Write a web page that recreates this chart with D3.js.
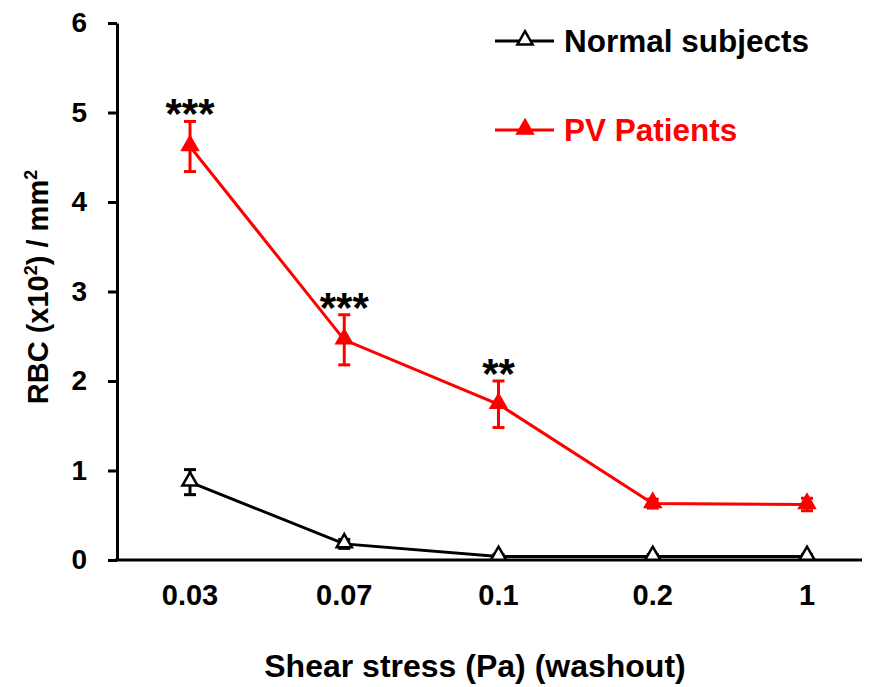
<!DOCTYPE html>
<html>
<head>
<meta charset="utf-8">
<script src="https://cdn.jsdelivr.net/npm/d3@7"></script>
<style>
  body { margin: 0; background: #fff; }
  text { font-family: "Liberation Sans", Arial, sans-serif; font-weight: bold; }
</style>
</head>
<body>
<svg id="chart"></svg>
<script>
const categories = ["0.03", "0.07", "0.1", "0.2", "1"];
const normalMean = [0.87, 0.18, 0.04, 0.04, 0.04];
const normalErr = [0.14, 0.05, 0.02, 0.02, 0.02];
const pvMean = [4.62, 2.46, 1.74, 0.63, 0.62];
const pvErr = [0.28, 0.28, 0.26, 0.05, 0.07];
const stars = ["***", "***", "**", "", ""];
const yTicks = [0, 1, 2, 3, 4, 5, 6];

const width = 874;
const height = 687;

const svg = d3.select("#chart")
    .attr("width", width)
    .attr("height", height);

const xScale = d3.scalePoint()
    .domain(categories)
    .range([190, 807]);

const yScale = d3.scaleLinear()
    .domain([0, 6])
    .range([560, 23]);

// y axis
const yAxis = svg.append("g")
    .attr("transform", "translate(117,0)")
    .call(d3.axisLeft(yScale).tickValues(yTicks).tickFormat(d3.format("d"))
      .tickSize(9).tickSizeOuter(0).tickPadding(21));
yAxis.select(".domain").attr("stroke-width", 3);
yAxis.selectAll(".tick line").attr("stroke-width", 3);
yAxis.selectAll(".tick text").style("font-size", "28px").attr("fill", "#000");

// x axis line + labels
svg.append("line")
    .attr("x1", 115).attr("x2", 862)
    .attr("y1", yScale(0)).attr("y2", yScale(0))
    .attr("stroke", "#000").attr("stroke-width", 3);

svg.append("g").selectAll("text")
    .data(categories)
    .join("text")
    .attr("x", d => xScale(d))
    .attr("y", 605)
    .attr("text-anchor", "middle")
    .style("font-size", "29px")
    .text(d => d);

svg.append("text")
    .attr("x", 475)
    .attr("y", 677)
    .attr("text-anchor", "middle")
    .style("font-size", "32px")
    .text("Shear stress (Pa) (washout)");

const ylab = svg.append("text")
    .attr("transform", "translate(48,287) rotate(-90)")
    .attr("text-anchor", "middle")
    .style("font-size", "29px");
ylab.append("tspan").text("RBC (x10");
ylab.append("tspan").text("2").attr("dy", -11).style("font-size", "18px");
ylab.append("tspan").text(") / mm").attr("dy", 11);
ylab.append("tspan").text("2").attr("dy", -11).style("font-size", "18px");

const tri = d3.symbol().type(d3.symbolTriangle).size(100);

function drawSeries(means, errs, color, fill) {
  const pts = categories.map((c, i) => ({ c: c, v: means[i], e: errs[i] }));
  const g = svg.append("g");
  g.append("path")
      .datum(pts)
      .attr("fill", "none")
      .attr("stroke", color)
      .attr("stroke-width", 3)
      .attr("d", d3.line().x(d => xScale(d.c)).y(d => yScale(d.v)));
  const eb = g.selectAll(".eb").data(pts).join("g");
  eb.append("line")
      .attr("x1", d => xScale(d.c)).attr("x2", d => xScale(d.c))
      .attr("y1", d => yScale(d.v + d.e)).attr("y2", d => yScale(d.v - d.e))
      .attr("stroke", color).attr("stroke-width", 3);
  eb.selectAll(".cap")
      .data(d => [d.v + d.e, d.v - d.e].map(y => ({ c: d.c, y: y })))
      .join("line")
      .attr("x1", d => xScale(d.c) - 6).attr("x2", d => xScale(d.c) + 6)
      .attr("y1", d => yScale(d.y)).attr("y2", d => yScale(d.y))
      .attr("stroke", color).attr("stroke-width", 3);
  g.selectAll(".mk").data(pts).join("path")
      .attr("transform", d => `translate(${xScale(d.c)},${yScale(d.v) - 1})`)
      .attr("d", tri)
      .attr("fill", fill)
      .attr("stroke", color)
      .attr("stroke-width", 2.5);
}

drawSeries(normalMean, normalErr, "#000", "#fff");
drawSeries(pvMean, pvErr, "#ff0000", "#ff0000");

// significance marks
svg.append("g").selectAll("text")
    .data(categories.map((c, i) => ({ c: c, s: stars[i], top: pvMean[i] + pvErr[i] })))
    .join("text")
    .attr("x", d => xScale(d.c))
    .attr("y", d => yScale(d.top) + 7)
    .attr("text-anchor", "middle")
    .style("font-size", "42px")
    .text(d => d.s);

// legend
const legend = [
  { name: "Normal subjects", color: "#000", fill: "#fff", y: 41 },
  { name: "PV Patients", color: "#ff0000", fill: "#ff0000", y: 130 }
];
const lg = svg.append("g").selectAll("g").data(legend).join("g")
    .attr("transform", d => `translate(0,${d.y})`);
lg.append("line")
    .attr("x1", 495).attr("x2", 554)
    .attr("stroke", d => d.color).attr("stroke-width", 3);
lg.append("path")
    .attr("transform", "translate(525,-1)")
    .attr("d", tri)
    .attr("fill", d => d.fill)
    .attr("stroke", d => d.color)
    .attr("stroke-width", 2.5);
lg.append("text")
    .attr("x", 564)
    .attr("y", 11)
    .style("font-size", "31.5px")
    .attr("fill", d => d.color)
    .text(d => d.name);
</script>
</body>
</html>
